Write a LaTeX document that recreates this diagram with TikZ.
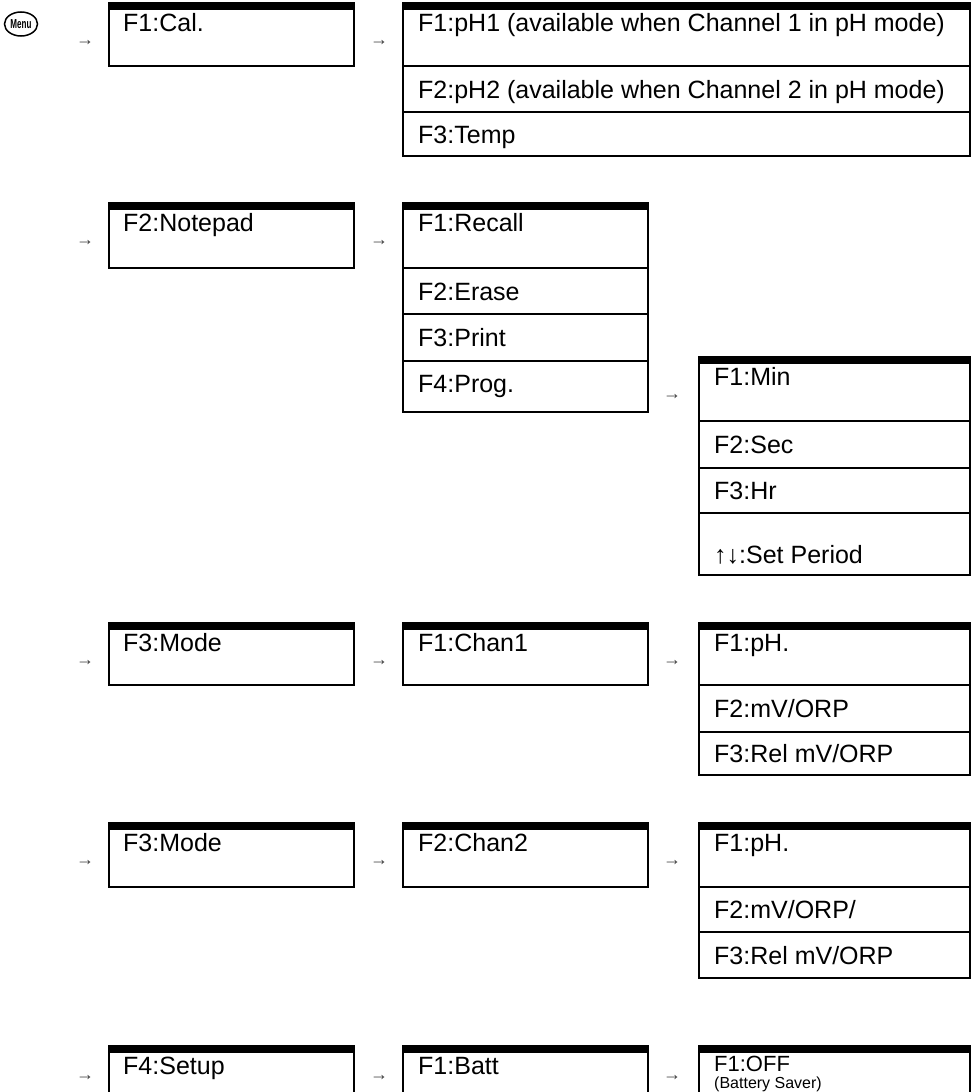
\documentclass[tikz,border=0pt]{standalone}
\usepackage{fontspec}
\setmainfont{Liberation Sans}
\usetikzlibrary{shapes.geometric, positioning}

\tikzset{
    cell/.style={draw, line width=2pt, anchor=north west, inner sep=0pt,
        outer sep=0pt, minimum width=#1},
    cell/.default=245pt,
    headcell/.style={cell=#1, path picture={
        \fill (path picture bounding box.north west)
            rectangle ([yshift=-7pt]path picture bounding box.north east);}},
    headcell/.default=245pt,
    celltext/.style={anchor=base west, inner sep=0pt,
        font=\fontsize{25}{26}\selectfont},
    smalltext/.style={anchor=base west, inner sep=0pt,
        font=\fontsize{16}{17}\selectfont},
    stepsign/.style={inner sep=0pt, text=black!75,
        font=\fontsize{18}{18}\selectfont}
}

\begin{document}
\begin{tikzpicture}[x=1pt, y=-1pt]
    \useasboundingbox (0,0) rectangle (975,1092);
    \clip (0,0) rectangle (975,1092);

    \node[draw, ellipse, line width=1.5pt, minimum width=33pt, minimum height=24pt,
        inner sep=0pt, font=\bfseries\fontsize{13}{13}\selectfont] (menu) at (21,24)
        {\scalebox{0.62}[1]{Menu}};

    % calibration
    \node[stepsign] (calArrow) at (85,43) {→};
    \node[headcell, minimum height=63pt] (cal) at (109,3) {};
    \node[celltext] (calText) at ([shift={(14,28)}]cal.north west) {F1:Cal.};
    \node[stepsign] (phArrow) at (379,43) {→};
    \node[headcell=567pt, minimum height=63pt] (phOne) at (403,3) {};
    \node[celltext] (phOneText) at ([shift={(15,28)}]phOne.north west)
        {F1:pH1 (available when Channel 1 in pH mode)};
    \node[cell=567pt, minimum height=46pt] (phTwo) at (403,66) {};
    \node[celltext] (phTwoText) at ([shift={(15,9)}]phTwo.west)
        {F2:pH2 (available when Channel 2 in pH mode)};
    \node[cell=567pt, minimum height=44pt] (temp) at (403,112) {};
    \node[celltext] (tempText) at ([shift={(15,9)}]temp.west) {F3:Temp};

    % notepad
    \node[stepsign] (noteArrow) at (85,243) {→};
    \node[headcell, minimum height=65pt] (note) at (109,203) {};
    \node[celltext] (noteText) at ([shift={(14,28)}]note.north west) {F2:Notepad};
    \node[stepsign] (recallArrow) at (379,243) {→};
    \node[headcell, minimum height=65pt] (recall) at (403,203) {};
    \node[celltext] (recallText) at ([shift={(15,28)}]recall.north west) {F1:Recall};
    \node[cell, minimum height=46pt] (erase) at (403,268) {};
    \node[celltext] (eraseText) at ([shift={(15,9)}]erase.west) {F2:Erase};
    \node[cell, minimum height=47pt] (print) at (403,314) {};
    \node[celltext] (printText) at ([shift={(15,9)}]print.west) {F3:Print};
    \node[cell, minimum height=51pt] (prog) at (403,361) {};
    \node[celltext] (progText) at ([shift={(15,31)}]prog.north west) {F4:Prog.};

    \node[stepsign] (minArrow) at (672,397) {→};
    \node[headcell=271pt, minimum height=64pt] (min) at (699,357) {};
    \node[celltext] (minText) at ([shift={(15,28)}]min.north west) {F1:Min};
    \node[cell=271pt, minimum height=47pt] (sec) at (699,421) {};
    \node[celltext] (secText) at ([shift={(15,9)}]sec.west) {F2:Sec};
    \node[cell=271pt, minimum height=45pt] (hr) at (699,468) {};
    \node[celltext] (hrText) at ([shift={(15,9)}]hr.west) {F3:Hr};
    \node[cell=271pt, minimum height=62pt] (period) at (699,513) {};
    \node[celltext] (periodText) at ([shift={(15,19)}]period.west) {↑↓:Set Period};

    % mode, channel 1
    \node[stepsign] (modeOneArrow) at (85,663) {→};
    \node[headcell, minimum height=62pt] (modeOne) at (109,623) {};
    \node[celltext] (modeOneText) at ([shift={(14,28)}]modeOne.north west) {F3:Mode};
    \node[stepsign] (chanOneArrow) at (379,663) {→};
    \node[headcell, minimum height=62pt] (chanOne) at (403,623) {};
    \node[celltext] (chanOneText) at ([shift={(15,28)}]chanOne.north west) {F1:Chan1};
    \node[stepsign] (phOneModeArrow) at (672,663) {→};
    \node[headcell=271pt, minimum height=62pt] (phModeOne) at (699,623) {};
    \node[celltext] (phModeOneText) at ([shift={(15,28)}]phModeOne.north west) {F1:pH.};
    \node[cell=271pt, minimum height=47pt] (mvOne) at (699,685) {};
    \node[celltext] (mvOneText) at ([shift={(15,9)}]mvOne.west) {F2:mV/ORP};
    \node[cell=271pt, minimum height=43pt] (relOne) at (699,732) {};
    \node[celltext] (relOneText) at ([shift={(15,9)}]relOne.west) {F3:Rel mV/ORP};

    % mode, channel 2
    \node[stepsign] (modeTwoArrow) at (85,863) {→};
    \node[headcell, minimum height=64pt] (modeTwo) at (109,823) {};
    \node[celltext] (modeTwoText) at ([shift={(14,28)}]modeTwo.north west) {F3:Mode};
    \node[stepsign] (chanTwoArrow) at (379,863) {→};
    \node[headcell, minimum height=64pt] (chanTwo) at (403,823) {};
    \node[celltext] (chanTwoText) at ([shift={(15,28)}]chanTwo.north west) {F2:Chan2};
    \node[stepsign] (phTwoModeArrow) at (672,863) {→};
    \node[headcell=271pt, minimum height=64pt] (phModeTwo) at (699,823) {};
    \node[celltext] (phModeTwoText) at ([shift={(15,28)}]phModeTwo.north west) {F1:pH.};
    \node[cell=271pt, minimum height=45pt] (mvTwo) at (699,887) {};
    \node[celltext] (mvTwoText) at ([shift={(15,9)}]mvTwo.west) {F2:mV/ORP/};
    \node[cell=271pt, minimum height=46pt] (relTwo) at (699,932) {};
    \node[celltext] (relTwoText) at ([shift={(15,9)}]relTwo.west) {F3:Rel mV/ORP};

    % setup (cut off by the page edge)
    \node[stepsign] (setupArrow) at (85,1078) {→};
    \node[headcell, minimum height=64pt] (setup) at (109,1046) {};
    \node[celltext] (setupText) at ([shift={(14,28)}]setup.north west) {F4:Setup};
    \node[stepsign] (battArrow) at (379,1078) {→};
    \node[headcell, minimum height=64pt] (batt) at (403,1046) {};
    \node[celltext] (battText) at ([shift={(15,28)}]batt.north west) {F1:Batt};
    \node[stepsign] (offArrow) at (672,1078) {→};
    \node[headcell=271pt, minimum height=64pt] (off) at (699,1046) {};
    \node[celltext, font=\fontsize{22}{23}\selectfont] (offText)
        at ([shift={(15,25)}]off.north west) {F1:OFF};
    \node[smalltext] (saverText) at ([shift={(15,42)}]off.north west) {(Battery Saver)};
\end{tikzpicture}
\end{document}
